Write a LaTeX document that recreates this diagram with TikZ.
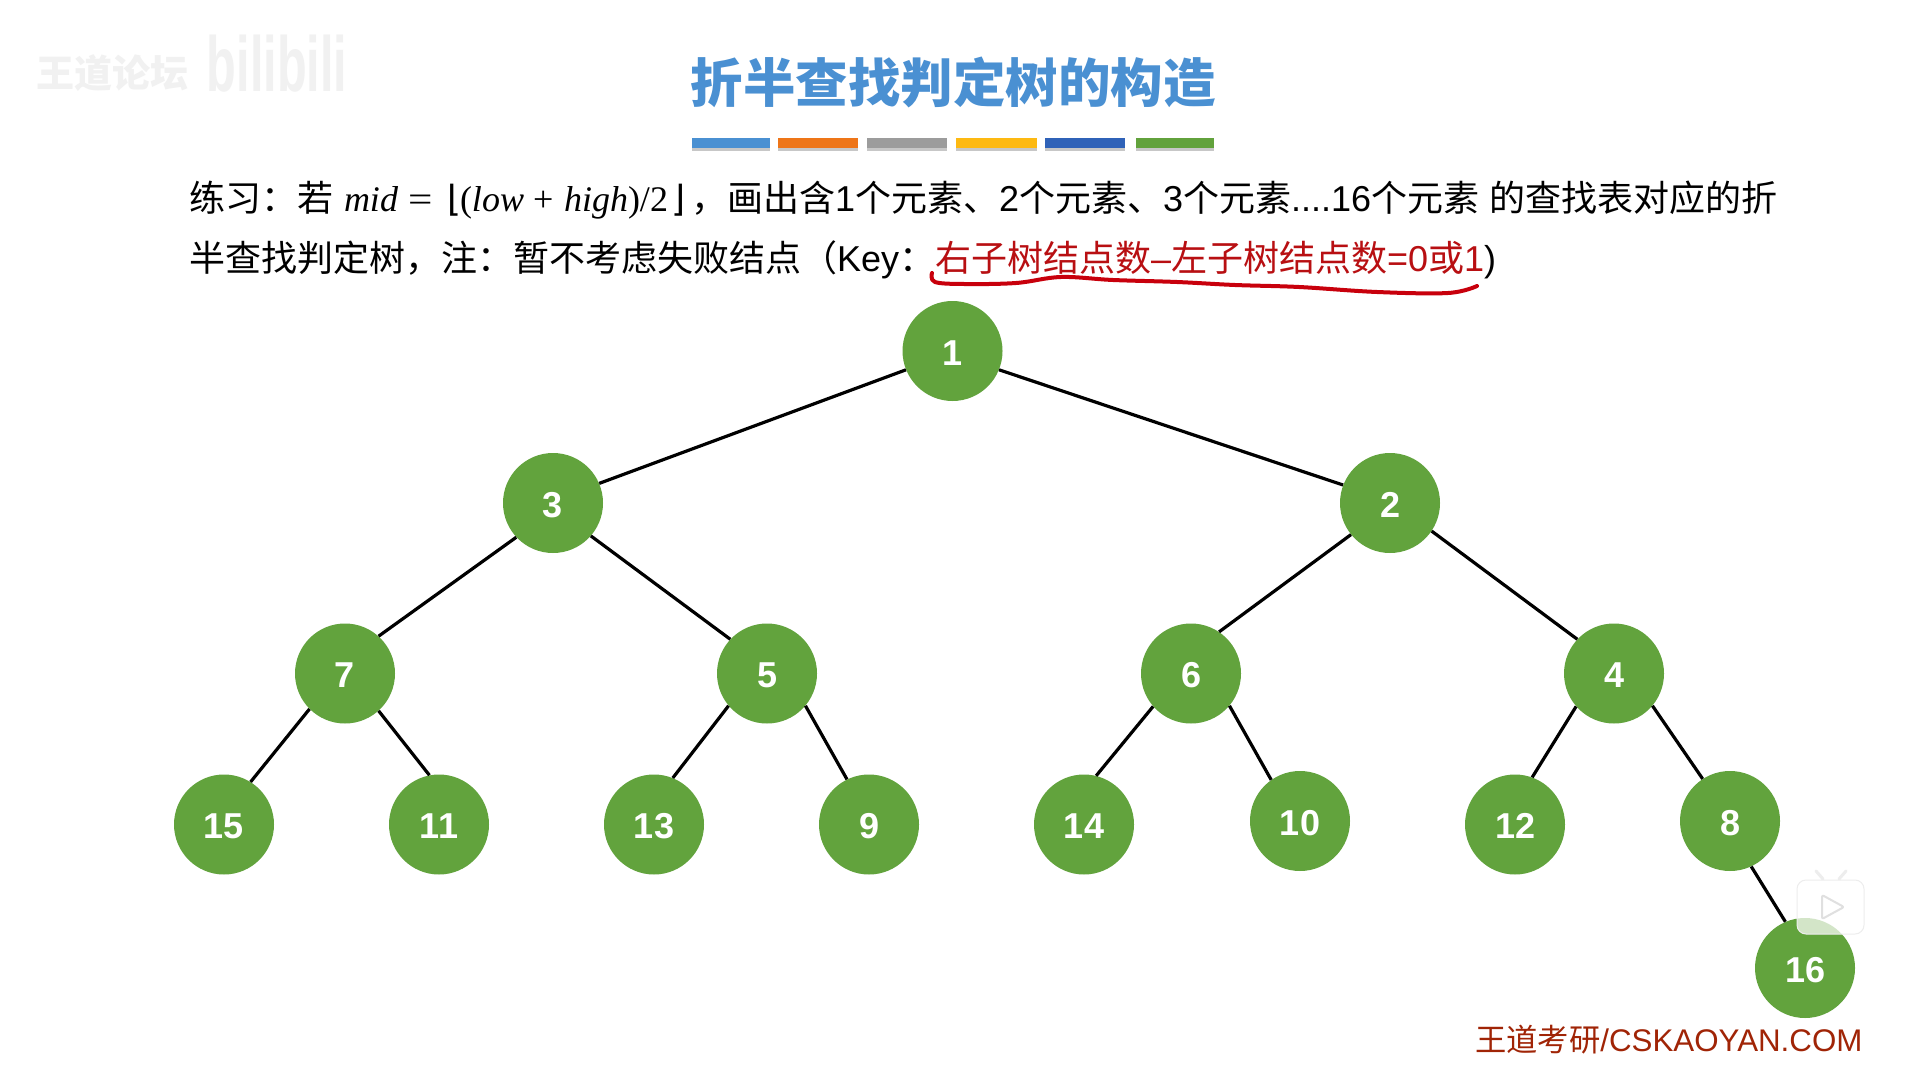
\documentclass[tikz,border=0pt]{standalone}
\usepackage{fontspec}
\setmainfont{Liberation Sans}
\newfontfamily\cjk{Noto Sans CJK SC}
\newfontfamily\tms{Liberation Serif}
\newfontfamily\dej{DejaVu Sans}
\newcommand{\zh}[1]{{\cjk #1}}
\definecolor{titleblue}{HTML}{4A90D2}
\definecolor{barorange}{HTML}{EE7518}
\definecolor{bargray}{HTML}{9C9C9C}
\definecolor{baryellow}{HTML}{FDB912}
\definecolor{barblue}{HTML}{2F62B8}
\definecolor{bargreen}{HTML}{62A23C}
\definecolor{nodegreen}{HTML}{62A33D}
\definecolor{redtext}{HTML}{B80F12}
\definecolor{redpen}{HTML}{C8000C}
\definecolor{foot}{HTML}{A02406}
\definecolor{ghost}{HTML}{F1F1F1}
\tikzset{
  tn/.style={circle,fill=nodegreen,minimum size=100pt,inner sep=0pt,text=white,
    text height=28.4pt,text depth=0pt,
    font=\fontsize{36}{36}\selectfont\bfseries},
  edge/.style={draw=black,line width=3.2pt},
  txt/.style={anchor=base west,inner sep=0pt,outer sep=0pt,text=black,
    font=\fontsize{36}{36}\selectfont},
}
\begin{document}
\begin{tikzpicture}[x=1pt,y=-1pt]
\useasboundingbox (0,0) rectangle (1910,1067);
\fill[white] (0,0) rectangle (1910,1067);
% watermark
\node[anchor=center,inner sep=0pt,text=ghost,font=\fontsize{38}{38}\selectfont\bfseries] (wm1) at (112,73) {\zh{王道论坛}};
\node[anchor=center,inner sep=0pt,text=ghost,font=\fontsize{60}{60}\selectfont\bfseries,transform shape,xscale=.81,yscale=1.3] (wm2) at (277,64) {bilibili};
% title
\node[anchor=center,inner sep=0pt,text=titleblue,font=\fontsize{52.5}{53}\selectfont\bfseries\cjk] (title) at (953,82) {折半查找判定树的构造};
% bars
\foreach \a/\b/\c in {692/770/titleblue,778/858/barorange,867/947/bargray,956/1037/baryellow,1045/1125/barblue,1136/1214/bargreen}{
  \fill[black!22] (\a,143) rectangle (\b,151);
  \fill[\c] (\a,138) rectangle (\b,148);
}
% line 1
\node[txt] (l1a) at (189,212) {\zh{练习：若}};
\node[txt] (m1) at (344,212) {\tms\itshape mid};
\node[txt] (m2) at (408,212) {\tms\scalebox{1.2}[1]{=}};
\node[txt] (m3) at (447,212) {\dej ⌊};
\node[txt] (m4) at (460,212) {\tms (\textit{low}};
\node[txt] (m5) at (533,212) {\tms +};
\node[txt] (m6) at (564,212) {\tms\textit{high})/2};
\node[txt] (m7) at (671,212) {\dej ⌋};
\node[txt] (l1b) at (691,212) {\zh{，画出含}1\zh{个元素、}2\zh{个元素、}3\zh{个元素}....16\zh{个元素} \zh{的查找表对应的折}};
% line 2
\node[txt] (l2) at (189,272) {\zh{半查找判定树，注：暂不考虑失败结点（}Key\zh{：}\textcolor{redtext}{\zh{右子树结点数}–\zh{左子树结点数}=0\zh{或}1})};
% red stroke
\draw[redpen,line width=4pt,line cap=round,line join=round] plot[smooth,tension=0.6] coordinates {(932,273) (935,282) (964,284) (1016,283) (1061,277) (1113,280) (1177,282) (1235,285) (1299,287) (1377,292) (1448,293) (1477,286)};
% tree nodes
\node[tn] (n1) at (952.5,351) {1};
\node[tn] (n3) at (553,503) {3};
\node[tn] (n2) at (1390,503) {2};
\node[tn] (n7) at (345,673.5) {7};
\node[tn] (n5) at (767,673.5) {5};
\node[tn] (n6) at (1191,673.5) {6};
\node[tn] (n4) at (1614,673.5) {4};
\node[tn] (n15) at (224,824.5) {15};
\node[tn] (n11) at (439,824.5) {11};
\node[tn] (n13) at (654,824.5) {13};
\node[tn] (n9) at (869,824.5) {9};
\node[tn] (n14) at (1084,824.5) {14};
\node[tn] (n10) at (1300,821) {10};
\node[tn] (n12) at (1515,824.5) {12};
\node[tn] (n8) at (1730,821) {8};
\node[tn] (n16) at (1805,968) {16};
% edges: each joins two named nodes at the border angle seen in the reference
\foreach \p/\pa/\q/\qa in {n1/202/n3/23,n1/338/n2/159,n3/223/n7/48,n3/319/n5/137,n2/219/n6/56,n2/326/n4/137,
  n7/225/n15/58,n7/312/n11/101,n5/220/n13/68,n5/320/n9/116,n6/221/n14/76,n6/320/n10/125,n4/221/n12/70,n4/320/n8/123,n8/295/n16/113}{
  \draw[edge] (\p.\pa) -- (\q.\qa);
}
% footer
\node[anchor=west,inner sep=0pt,text=foot,font=\fontsize{31.3}{32}\selectfont] (foot) at (1475,1039.5) {\zh{王道考研}/CSKAOYAN.COM};
% play badge
\fill[white,fill opacity=.72,rounded corners=9pt] (1797,880) rectangle (1864,934);
\draw[black!7,line width=1pt,rounded corners=9pt] (1797,880) rectangle (1864,934);
\draw[black!7,line width=3pt,line cap=round] (1823,879) -- (1816,871) (1839,879) -- (1846,871);
\draw[black!12,line width=2pt,line join=round,rounded corners=2pt] (1822,895) -- (1844,907) -- (1822,919) -- cycle;
\end{tikzpicture}
\end{document}
